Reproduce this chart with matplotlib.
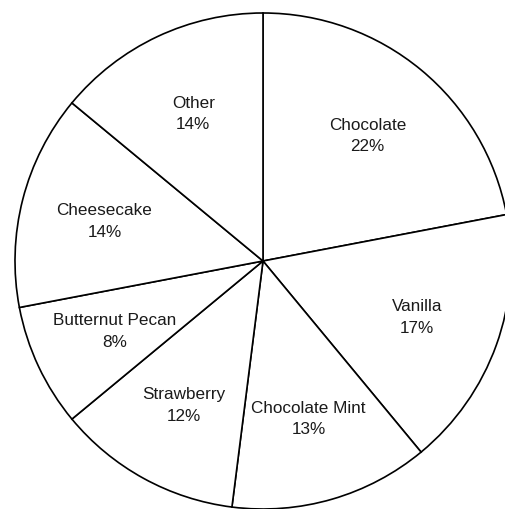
import matplotlib
matplotlib.use("Agg")
import matplotlib.pyplot as plt

categories = ["Chocolate", "Vanilla", "Chocolate Mint", "Strawberry",
              "Butternut Pecan", "Cheesecake", "Other"]
values = [22, 17, 13, 12, 8, 14, 14]

plt.rcParams['font.family'] = ['Liberation Sans', 'DejaVu Sans']

fig = plt.figure(figsize=(5.06, 5.10), dpi=100)
W, H = 506, 510
cx, cy, r = 263, 510 - 262, 248
ax = fig.add_axes([(cx - r) / W, (cy - r) / H, 2 * r / W, 2 * r / H])

total = sum(values)
labels = [f"{c}\n{round(v * 100 / total)}%" for c, v in zip(categories, values)]

wedges, texts = ax.pie(values, labels=labels, startangle=90, counterclock=False,
                       radius=1, labeldistance=0.66,
                       colors=["white"] * len(values),
                       wedgeprops=dict(edgecolor="black", linewidth=1.2),
                       textprops=dict(fontsize=12.3, color="#1a1a1a"))
for t in texts:
    t.set_ha("center")
    t.set_va("center")
    t.set_multialignment("center")
    t.set_linespacing(1.55)

ax.set_xlim(-1, 1)
ax.set_ylim(-1, 1)
ax.set_aspect("equal")
ax.axis("off")

fig.savefig("out.png", dpi=100)
